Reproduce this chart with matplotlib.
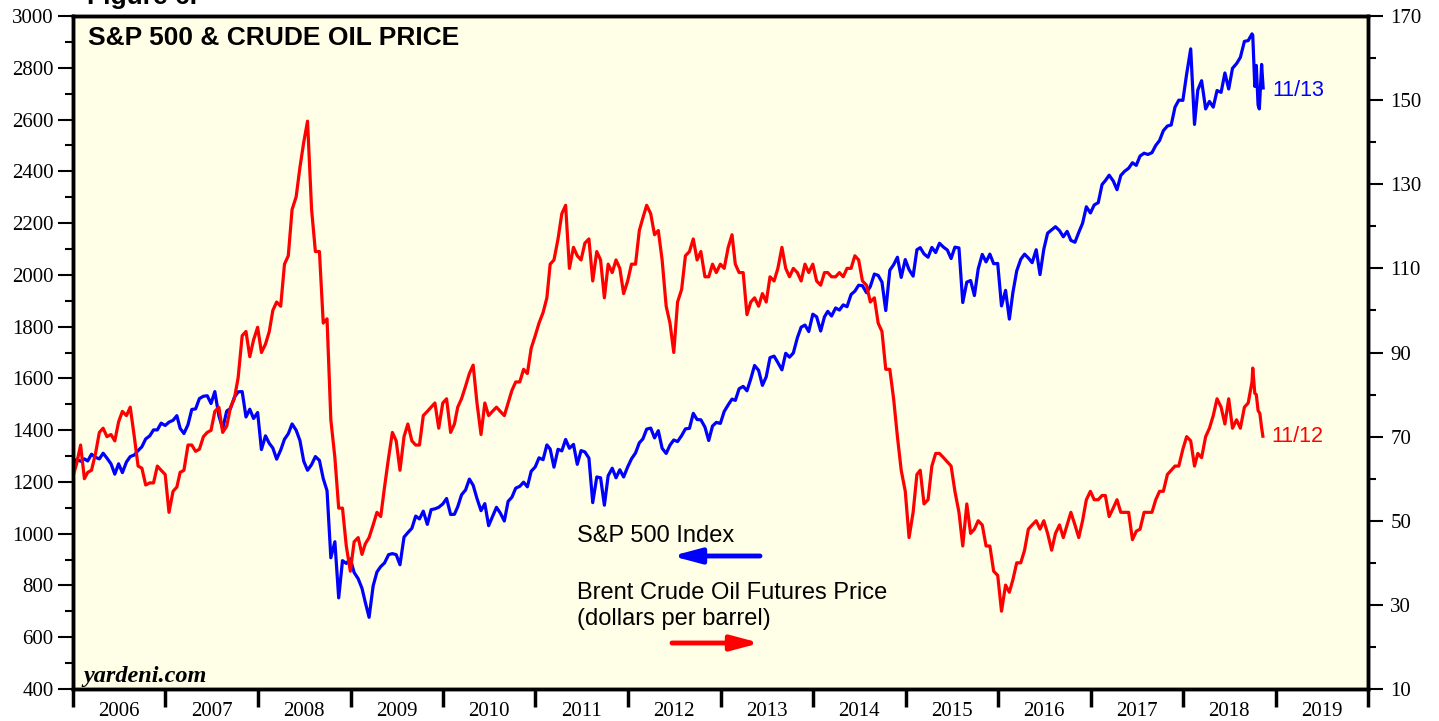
import matplotlib
matplotlib.use('Agg')
import matplotlib.pyplot as plt
import matplotlib.dates as mdates
import matplotlib.ticker as mticker
import pandas as pd

# ---------------- data (semi-monthly: mid-month, month-end) ----------------
sp500_start = [("2006-01-03", 1268)]
sp500_2006 = [1287, 1280, 1289, 1281, 1307, 1295, 1289, 1311, 1292, 1270, 1230, 1270,
              1236, 1277, 1298, 1304, 1321, 1336, 1366, 1378, 1401, 1401, 1427, 1418]
sp500_2007 = [1431, 1438, 1456, 1407, 1387, 1421, 1480, 1482, 1522, 1531, 1533, 1503,
              1549, 1455, 1406, 1474, 1484, 1527, 1548, 1549, 1451, 1481, 1445, 1468]
sp500_2008 = [1325, 1378, 1349, 1331, 1288, 1323, 1365, 1386, 1424, 1400, 1360, 1280,
              1245, 1267, 1298, 1283, 1213, 1166, 907, 969, 752, 896, 885, 903]
sp500_2009 = [850, 826, 789, 735, 677, 798, 852, 873, 887, 919, 923, 919,
              880, 987, 1004, 1021, 1068, 1057, 1087, 1036, 1093, 1096, 1102, 1115]
sp500_2010 = [1136, 1074, 1075, 1104, 1150, 1169, 1211, 1187, 1136, 1089, 1116, 1031,
              1065, 1102, 1080, 1049, 1125, 1141, 1176, 1183, 1199, 1181, 1241, 1258]
sp500_2011 = [1293, 1286, 1343, 1327, 1257, 1326, 1320, 1364, 1330, 1345, 1268, 1321,
              1316, 1292, 1120, 1219, 1216, 1110, 1224, 1253, 1216, 1247, 1219, 1258]
sp500_2012 = [1289, 1312, 1351, 1366, 1404, 1408, 1370, 1398, 1330, 1310, 1342, 1362,
              1356, 1379, 1405, 1407, 1465, 1441, 1440, 1412, 1360, 1416, 1430, 1426]
sp500_2013 = [1472, 1498, 1520, 1515, 1560, 1569, 1552, 1598, 1650, 1631, 1573, 1606,
              1680, 1686, 1661, 1633, 1697, 1682, 1698, 1757, 1798, 1806, 1781, 1848]
sp500_2014 = [1838, 1783, 1838, 1859, 1841, 1872, 1864, 1884, 1877, 1924, 1937, 1960,
              1958, 1931, 1955, 2003, 1998, 1972, 1862, 2018, 2039, 2068, 1990, 2059]
sp500_2015 = [2020, 1995, 2097, 2105, 2081, 2068, 2106, 2086, 2122, 2107, 2096, 2063,
              2107, 2104, 1893, 1972, 1978, 1920, 2023, 2079, 2050, 2080, 2043, 2044]
sp500_2016 = [1880, 1940, 1829, 1932, 2015, 2060, 2080, 2065, 2047, 2097, 2001, 2099,
              2161, 2174, 2186, 2171, 2147, 2168, 2133, 2126, 2164, 2199, 2263, 2239]
sp500_2017 = [2270, 2279, 2349, 2364, 2385, 2363, 2329, 2384, 2400, 2412, 2433, 2423,
              2459, 2470, 2465, 2472, 2500, 2519, 2557, 2575, 2579, 2648, 2675, 2674]
sp500_2018 = [2776, 2873, 2581, 2714, 2750, 2641, 2670, 2648, 2712, 2705, 2780, 2718,
              2798, 2816, 2840, 2902, 2905, 2931]
sp500_tail = [("2018-10-03", 2925), ("2018-10-11", 2728), ("2018-10-17", 2809),
              ("2018-10-24", 2656), ("2018-10-29", 2641), ("2018-11-07", 2813),
              ("2018-11-13", 2722)]

brent_start = [("2006-01-03", 61)]
brent_2006 = [63.5, 68, 60, 61.5, 62, 66, 71, 72, 70, 70.5, 69, 73.5,
              76, 75, 77, 70, 63, 62.5, 58.5, 59, 59, 63, 62, 61]
brent_2007 = [52, 57, 58, 61.5, 62, 68, 68, 66.5, 67, 70, 71, 71.5,
              76, 77, 71, 72.5, 77, 79, 84, 94, 95, 89, 93, 96]
brent_2008 = [90, 92, 95, 100, 102, 101, 111, 113, 124, 127, 134, 140,
              145, 124, 114, 114, 97, 98, 74, 65, 53, 53, 44, 38]
brent_2009 = [45, 46, 42, 44.5, 46, 49, 52, 51, 58, 65, 71, 69,
              62, 70, 73, 69, 68, 68, 75, 76, 77, 78, 72, 78]
brent_2010 = [79, 71, 73, 77, 79, 82, 85, 87, 78, 70.5, 78, 75,
              76, 77, 76, 75, 78, 81, 83, 83, 86, 85, 91, 94]
brent_2011 = [97, 99.5, 103, 111, 112, 117, 123, 125, 110, 115, 113, 112,
              116, 117, 107, 114, 112, 103, 111, 109, 112, 110, 104, 107]
brent_2012 = [111, 111, 119, 122, 125, 123, 118, 119, 112, 101, 97, 90,
              102, 105, 113, 114, 117, 112, 114, 108, 108, 111, 109, 111]
brent_2013 = [110, 115, 118, 111, 109, 109, 99, 102, 103, 101, 104, 102,
              108, 107, 110, 115, 110, 108, 110, 109, 107, 111, 109, 111]
brent_2014 = [107, 106, 109, 109, 108, 108, 109, 108, 110, 110, 113, 112,
              107, 106, 102, 103, 97, 95, 86, 86, 79, 70, 62, 57]
brent_2015 = [46, 52, 61, 62, 54, 55, 63, 66, 66, 65, 64, 63,
              57, 52, 44, 54, 47, 48, 50, 49, 44, 44, 38, 37]
brent_2016 = [28.5, 34.7, 33, 36, 40, 40, 43, 48, 49, 50, 48, 50,
              47, 43, 47, 49, 46, 49, 52, 49, 46, 50, 55, 57]
brent_2017 = [55, 55, 56, 56, 51, 53, 55, 52, 52, 52, 45.5, 47.5,
              48, 52, 52, 52, 55, 57, 57, 61, 62, 63, 63, 67]
brent_2018 = [70, 69, 63, 66, 65, 70, 72, 75, 79, 77, 73, 79,
              72, 74, 72, 77, 78, 83]
brent_tail = [("2018-10-03", 86.3), ("2018-10-11", 80.3), ("2018-10-17", 80.0),
              ("2018-10-24", 76.2), ("2018-10-31", 75.5), ("2018-11-07", 72.1),
              ("2018-11-12", 70.1)]

years = list(range(2006, 2019))
sp500_years = [sp500_2006, sp500_2007, sp500_2008, sp500_2009, sp500_2010, sp500_2011,
               sp500_2012, sp500_2013, sp500_2014, sp500_2015, sp500_2016, sp500_2017,
               sp500_2018]
brent_years = [brent_2006, brent_2007, brent_2008, brent_2009, brent_2010, brent_2011,
               brent_2012, brent_2013, brent_2014, brent_2015, brent_2016, brent_2017,
               brent_2018]

year_labels = [str(y) for y in range(2006, 2020)]


def semi_monthly_dates(year, n):
    out = []
    for m in range(1, 13):
        out.append(pd.Timestamp(year, m, 15))
        out.append(pd.Timestamp(year, m, 1) + pd.offsets.MonthEnd(0))
    return out[:n]


def build(start, per_year, tail):
    d = [pd.Timestamp(s) for s, _ in start]
    v = [x for _, x in start]
    for y, vals in zip(years, per_year):
        d += semi_monthly_dates(y, len(vals))
        v += vals
    d += [pd.Timestamp(s) for s, _ in tail]
    v += [x for _, x in tail]
    return d, v


sp_d, sp_v = build(sp500_start, sp500_years, sp500_tail)
br_d, br_v = build(brent_start, brent_years, brent_tail)

# ---------------- figure ----------------
plt.rcParams['font.family'] = ['Liberation Serif', 'DejaVu Serif']
W, H = 1439, 721
fig = plt.figure(figsize=(W / 100, H / 100), dpi=100)
ax = fig.add_axes([73 / W, 32 / H, 1295 / W, 673 / H])
ax.set_facecolor('#FFFEE6')
ax2 = ax.twinx()

ax.plot(sp_d, sp_v, color='#0000FF', lw=2.3, solid_joinstyle='round')
ax2.plot(br_d, br_v, color='#FF0000', lw=2.3, solid_joinstyle='round')

ax.set_xlim(pd.Timestamp('2006-01-01'), pd.Timestamp('2020-01-01'))
ax.set_ylim(400, 3000)
ax2.set_ylim(10, 170)

# x axis
ax.xaxis.set_major_locator(mdates.YearLocator())
ax.xaxis.set_major_formatter(mticker.NullFormatter())
mid_years = [pd.Timestamp(int(y), 7, 2) for y in year_labels]
ax.xaxis.set_minor_locator(mticker.FixedLocator(mdates.date2num(mid_years)))
ax.xaxis.set_minor_formatter(mticker.FixedFormatter(year_labels))
ax.tick_params(axis='x', which='major', length=13, width=2.5, direction='out')
ax.tick_params(axis='x', which='minor', length=0, pad=9, labelsize=15)

# y axes
ax.yaxis.set_major_locator(mticker.MultipleLocator(200))
ax.yaxis.set_minor_locator(mticker.MultipleLocator(100))
ax.tick_params(axis='y', which='major', length=11, width=1.5, labelsize=15, pad=3)
ax.tick_params(axis='y', which='minor', length=6, width=1.5)
ax2.yaxis.set_major_locator(mticker.FixedLocator(list(range(10, 171, 20))))
ax2.yaxis.set_minor_locator(mticker.FixedLocator(list(range(20, 170, 20))))
ax2.tick_params(axis='y', which='major', length=11, width=1.5, labelsize=15, pad=5)
ax2.tick_params(axis='y', which='minor', length=6, width=1.5)

for a in (ax, ax2):
    for s in a.spines.values():
        s.set_linewidth(2.5)
        s.set_color('black')

sans = ['Liberation Sans', 'DejaVu Sans']


def px(x, y):
    return x / W, 1 - y / H


fig.text(*px(87, 4), 'Figure 6.', fontfamily=sans, fontweight='bold', fontsize=19,
         va='baseline', ha='left')
fig.text(*px(88, 38), 'S&P 500 & CRUDE OIL PRICE', fontfamily=sans, fontweight='bold',
         fontsize=19, va='center', ha='left')
fig.text(*px(83, 682), 'yardeni.com', fontfamily=['Liberation Serif'], fontweight='bold',
         fontstyle='italic', fontsize=17.5, va='baseline', ha='left')

fig.text(*px(577, 536), 'S&P 500 Index', fontfamily=sans, fontsize=17, va='center', ha='left')
fig.text(*px(577, 593), 'Brent Crude Oil Futures Price', fontfamily=sans, fontsize=17,
         va='center', ha='left')
fig.text(*px(577, 619), '(dollars per barrel)', fontfamily=sans, fontsize=17,
         va='center', ha='left')

fig.text(*px(1272, 90), '11/13', fontfamily=sans, fontsize=15.5, color='#0000FF',
         va='center', ha='left')
fig.text(*px(1271, 437), '11/12', fontfamily=sans, fontsize=15.5, color='#FF0000',
         va='center', ha='left')

arrow_kw = dict(arrowstyle='-|>,head_length=1.2,head_width=0.32', lw=3.5,
                shrinkA=0, shrinkB=0, mutation_scale=14)
fig.add_artist(matplotlib.patches.FancyArrowPatch(px(760, 556), px(672, 556),
               transform=fig.transFigure, color='#0000FF', **arrow_kw))
fig.add_artist(matplotlib.patches.FancyArrowPatch(px(672, 643), px(760, 643),
               transform=fig.transFigure, color='#FF0000', **arrow_kw))

fig.savefig('out.png', dpi=100, facecolor='white')
